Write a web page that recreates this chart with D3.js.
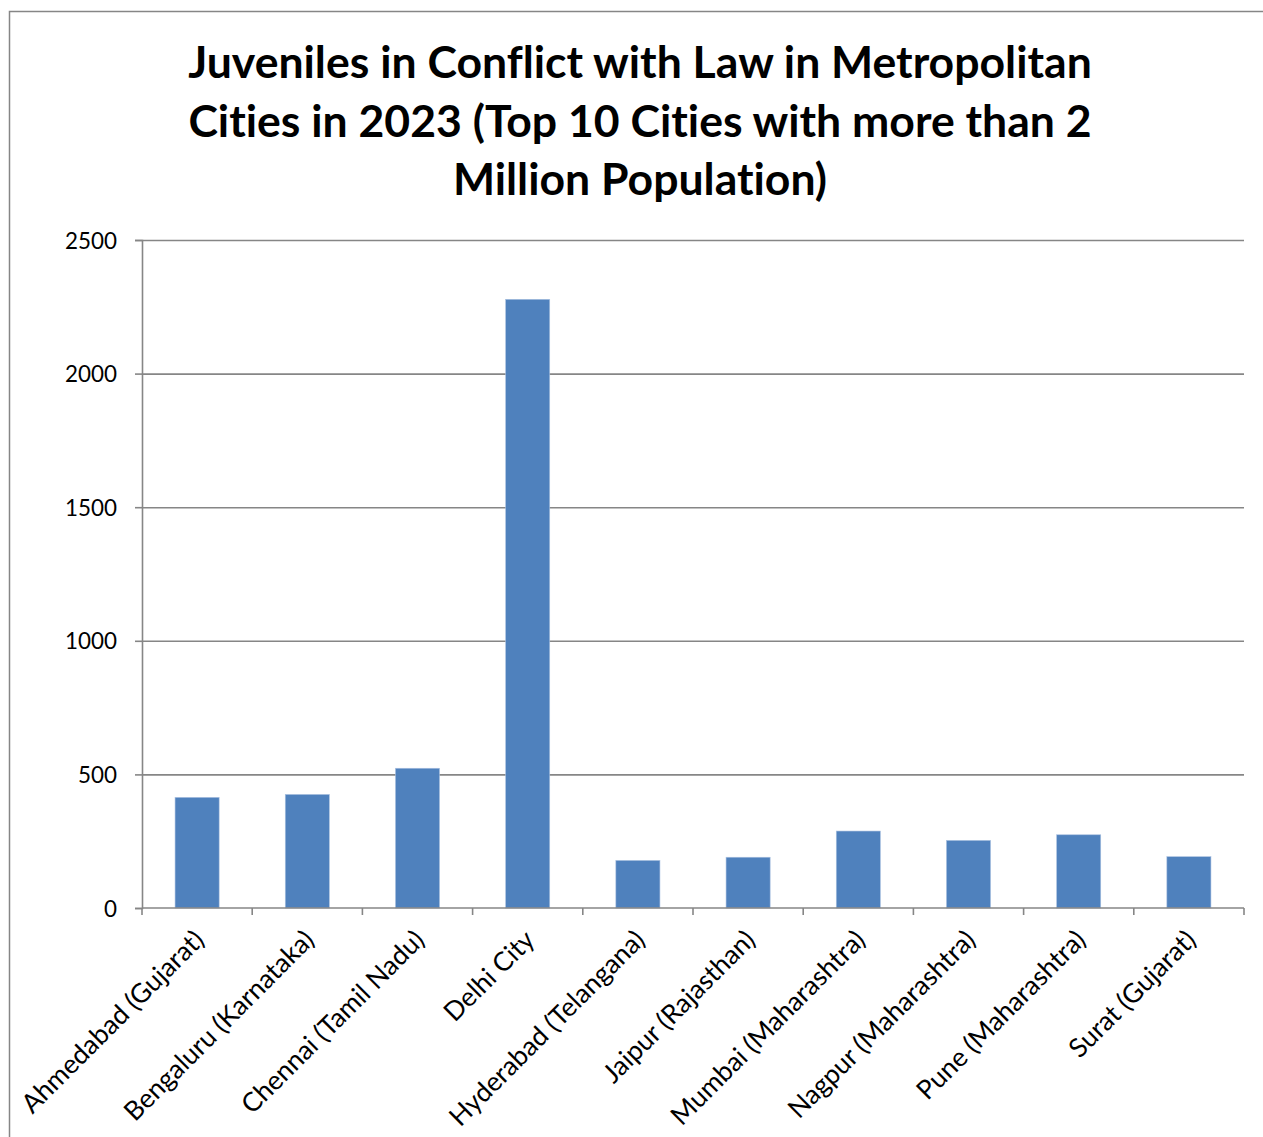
<!DOCTYPE html>
<html>
<head>
<meta charset="utf-8">
<script src="https://cdn.jsdelivr.net/npm/d3@7"></script>
<style>
html,body{margin:0;padding:0;background:#fff;overflow:hidden;}
svg{display:block;}
text{font-family:Lato,"Open Sans","Noto Sans",sans-serif;fill:#000;font-variant-ligatures:none;font-feature-settings:"liga" 0,"clig" 0;}
</style>
</head>
<body>
<svg id="chart" width="1263" height="1137"></svg>
<script>
const titleLines = [
  "Juveniles in Conflict with Law in Metropolitan",
  "Cities in 2023 (Top 10 Cities with more than 2",
  "Million Population)"
];
const cities = [
  "Ahmedabad (Gujarat)",
  "Bengaluru (Karnataka)",
  "Chennai (Tamil Nadu)",
  "Delhi City",
  "Hyderabad (Telangana)",
  "Jaipur (Rajasthan)",
  "Mumbai (Maharashtra)",
  "Nagpur (Maharashtra)",
  "Pune (Maharashtra)",
  "Surat (Gujarat)"
];
const juveniles = [414, 425, 523, 2278, 178, 190, 288, 253, 274, 192];
const yTicks = [0, 500, 1000, 1500, 2000, 2500];

const svg = d3.select("#chart");
const plot = {left: 142, right: 1244, top: 240, bottom: 908};
const axisColor = "#868686";

// outer chart border
svg.append("rect")
  .attr("x", 9.5).attr("y", 11.5)
  .attr("width", 1270).attr("height", 1140)
  .attr("fill", "#fff").attr("stroke", axisColor).attr("stroke-width", 1.5);

const x = d3.scaleBand().domain(cities).range([plot.left, plot.right]).paddingInner(0.6).paddingOuter(0.3);
const xb = d3.scaleBand().domain(cities).range([plot.left, plot.right]);
const y = d3.scaleLinear().domain([0, 2500]).range([plot.bottom, plot.top]);

// Title
const tl = svg.append("g").selectAll("text").data(titleLines).join("text")
  .attr("x", 640)
  .attr("y", (d, i) => 78 + i * 58.5)
  .attr("text-anchor", "middle")
  .style("font-weight", "bold")
  .style("font-size", "40px")
  .text(d => d);
{
  const w = tl.nodes()[0].getComputedTextLength();
  tl.style("font-size", (40 * 904 / w) + "px");
}

// gridlines
const grid = svg.append("g")
  .attr("transform", `translate(${plot.left},0)`)
  .call(d3.axisLeft(y).tickValues(yTicks.filter(v => v > 0)).tickSize(-(plot.right - plot.left)).tickFormat(""));
grid.select(".domain").remove();
grid.selectAll("line").attr("stroke", axisColor).attr("stroke-width", 1.6);

// bars
svg.append("g").selectAll("rect").data(cities).join("rect")
  .attr("x", d => x(d))
  .attr("width", x.bandwidth())
  .attr("y", (d, i) => y(juveniles[i]))
  .attr("height", (d, i) => y(0) - y(juveniles[i]))
  .attr("fill", "#4f81bd")
  .attr("stroke", "#a9c0e0")
  .attr("stroke-width", 0.6);

// y axis
const ya = svg.append("g")
  .attr("transform", `translate(${plot.left},0)`)
  .call(d3.axisLeft(y).tickValues(yTicks).tickSize(7).tickPadding(18).tickFormat(d3.format("d")));
ya.select(".domain").attr("stroke", axisColor).attr("stroke-width", 1.6);
ya.selectAll(".tick line").attr("stroke", axisColor).attr("stroke-width", 1.6);
const yt = ya.selectAll(".tick text").style("font-size", "22px").attr("fill", "#000");
{
  const n = yt.nodes().find(t => t.textContent === "2500");
  const w = n.getComputedTextLength();
  yt.style("font-size", (22 * 52 / w) + "px");
  yt.attr("x", -25).attr("dy", "0.36em");
}

// x axis baseline and ticks at category boundaries
const xa = svg.append("g");
xa.append("line")
  .attr("x1", plot.left).attr("x2", plot.right)
  .attr("y1", plot.bottom).attr("y2", plot.bottom)
  .attr("stroke", axisColor).attr("stroke-width", 1.6);
const bounds = cities.map(c => xb(c)).concat([plot.right]);
xa.selectAll("line.tk").data(bounds).join("line").attr("class", "tk")
  .attr("x1", d => d).attr("x2", d => d)
  .attr("y1", plot.bottom).attr("y2", plot.bottom + 7)
  .attr("stroke", axisColor).attr("stroke-width", 1.6);

// category labels
const cl = xa.selectAll("text").data(cities).join("text")
  .attr("transform", d => `translate(${xb(d) + xb.bandwidth() / 2 + 2},${plot.bottom + 27}) rotate(-45)`)
  .attr("text-anchor", "end")
  .attr("dy", "0.35em")
  .style("font-size", "22px")
  .text(d => d);
{
  const w = cl.nodes()[0].getComputedTextLength();
  cl.style("font-size", (22 * 245 / w) + "px");
}
</script>
</body>
</html>
